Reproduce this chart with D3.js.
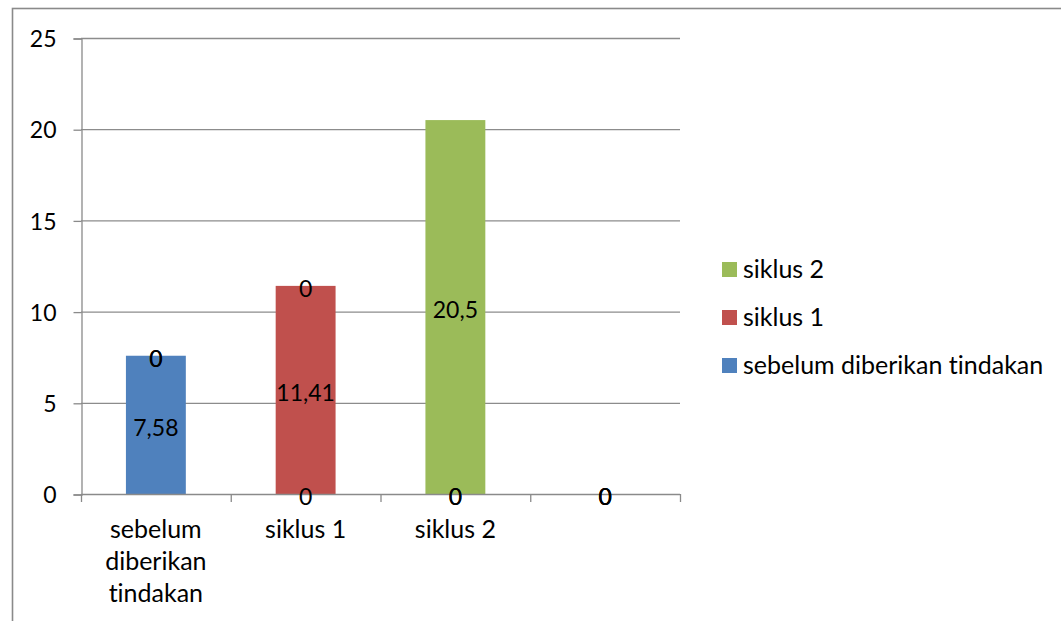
<!DOCTYPE html>
<html>
<head>
<meta charset="utf-8">
<script src="https://cdn.jsdelivr.net/npm/d3@7"></script>
<style>
  html, body { margin: 0; padding: 0; background: #fff; }
  svg { display: block; }
  text { font-family: Lato, "Open Sans", sans-serif; fill: #000; font-variant-ligatures: none; font-feature-settings: "liga" 0, "clig" 0; }
</style>
</head>
<body>
<svg id="chart" width="1061" height="621"></svg>
<script>
// Category names along the x axis (last slot is an empty category)
const categories = ["sebelum diberikan tindakan", "siklus 1", "siklus 2", ""];
// Series, stacked bottom to top
const seriesNames = ["sebelum diberikan tindakan", "siklus 1", "siklus 2"];
const sebelumValues = [7.58, 0, 0, 0];
const siklus1Values = [0, 11.41, 0, 0];
const siklus2Values = [0, 0, 20.5, 0];
const seriesColors = ["#4F81BD", "#C0504D", "#9BBB59"];
const yTicks = [0, 5, 10, 15, 20, 25];

const svg = d3.select("#chart");
const W = 1061, H = 621;
const plot = { left: 81, right: 680, top: 38, bottom: 494 };

// Outer chart frame (extends past the visible window on right and bottom)
svg.append("rect")
  .attr("x", 12.5).attr("y", 8.5)
  .attr("width", W + 20).attr("height", H + 20)
  .attr("fill", "none").attr("stroke", "#8a8a8a").attr("stroke-width", 1.6);

const idx = categories.map((d, i) => i);
const x = d3.scaleBand().domain(idx).range([plot.left, plot.right]).paddingInner(0).paddingOuter(0);
const y = d3.scaleLinear().domain([0, 25]).range([plot.bottom, plot.top]);

// Horizontal gridlines
svg.append("g").selectAll("line").data(yTicks.filter(t => t > 0)).join("line")
  .attr("x1", plot.left).attr("x2", plot.right)
  .attr("y1", d => y(d) + 0.5).attr("y2", d => y(d) + 0.5)
  .attr("stroke", "#8c8c8c").attr("stroke-width", 1.3);

// Stack the series
const rows = idx.map(i => ({
  i,
  s0: sebelumValues[i],
  s1: siklus1Values[i],
  s2: siklus2Values[i]
}));
const keys = ["s0", "s1", "s2"];
const stacked = d3.stack().keys(keys)(rows);

const barW = x.bandwidth() * 0.4;

const layers = svg.append("g").selectAll("g").data(stacked).join("g")
  .attr("fill", (d, k) => seriesColors[k]);
layers.selectAll("rect").data(d => d).join("rect")
  .attr("x", d => x(d.data.i) + (x.bandwidth() - barW) / 2)
  .attr("width", barW)
  .attr("y", d => y(d[1]))
  .attr("height", d => y(d[0]) - y(d[1]));

const numFont = 23, catFont = 25;

// Y axis
const yAxis = d3.axisLeft(y).tickValues(yTicks).tickSize(8).tickPadding(17).tickFormat(d3.format("d"));
const gy = svg.append("g").attr("transform", `translate(${plot.left + 0.5},0.5)`).call(yAxis);
gy.select(".domain").attr("stroke", "#8a8a8a").attr("stroke-width", 1.3);
gy.selectAll(".tick line").attr("stroke", "#8a8a8a").attr("stroke-width", 1.3);
gy.selectAll(".tick text").attr("font-size", numFont).attr("font-family", "Lato, sans-serif")
  .attr("fill", "#000").attr("dy", "0.36em");

// X axis baseline with ticks at category boundaries
const gx = svg.append("g");
gx.append("line")
  .attr("x1", plot.left).attr("x2", plot.right)
  .attr("y1", y(0) + 0.5).attr("y2", y(0) + 0.5)
  .attr("stroke", "#8a8a8a").attr("stroke-width", 1.3);
const bounds = idx.map(i => x(i)).concat([x(idx[idx.length - 1]) + x.bandwidth()]);
gx.selectAll("line.tk").data(bounds).join("line").attr("class", "tk")
  .attr("x1", d => d + 0.5).attr("x2", d => d + 0.5)
  .attr("y1", y(0)).attr("y2", y(0) + 8)
  .attr("stroke", "#8a8a8a").attr("stroke-width", 1.3);

// Category labels, wrapped to the band width
const lineH = 32, maxW = x.bandwidth() - 10;
idx.forEach(i => {
  const cx = x(i) + x.bandwidth() / 2;
  const t = gx.append("text")
    .attr("x", cx)
    .attr("y", 538)
    .attr("text-anchor", "middle")
    .attr("font-size", catFont);
  const words = categories[i].split(" ").filter(w => w);
  let line = [];
  let tspan = t.append("tspan").attr("x", cx).attr("dy", 0);
  words.forEach(w => {
    line.push(w);
    tspan.text(line.join(" "));
    if (tspan.node().getComputedTextLength() > maxW && line.length > 1) {
      line.pop();
      tspan.text(line.join(" "));
      line = [w];
      tspan = t.append("tspan").attr("x", cx).attr("dy", lineH).text(w);
    }
  });
});

// Data labels centred on each stacked segment
const fmt = v => String(v).replace(".", ",");
const labels = svg.append("g");
stacked.forEach(layer => {
  layer.forEach(d => {
    const v = d[1] - d[0];
    labels.append("text")
      .attr("x", x(d.data.i) + x.bandwidth() / 2)
      .attr("y", (y(d[0]) + y(d[1])) / 2 + 11)
      .attr("text-anchor", "middle")
      .attr("font-size", numFont)
      .text(fmt(+v.toFixed(2)));
  });
});

// Legend (top series first)
const legend = svg.append("g");
const legendOrder = [2, 1, 0];
legendOrder.forEach((k, r) => {
  const yy = 262 + r * 48;
  legend.append("rect").attr("x", 722).attr("y", yy).attr("width", 15).attr("height", 15)
    .attr("fill", seriesColors[k]);
  legend.append("text").attr("x", 743).attr("y", yy + 16)
    .attr("font-size", catFont).text(seriesNames[k]);
});
</script>
</body>
</html>
